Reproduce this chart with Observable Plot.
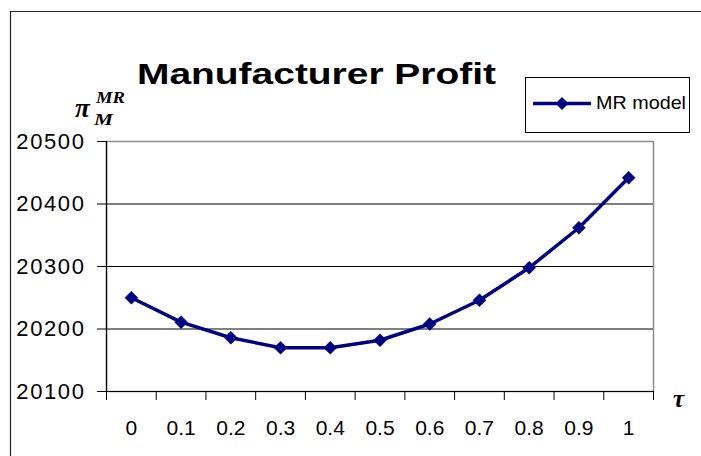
<!DOCTYPE html>
<html>
<head>
<meta charset="utf-8">
<script src="https://cdn.jsdelivr.net/npm/d3@7"></script>
<script src="https://cdn.jsdelivr.net/npm/@observablehq/plot@0.6"></script>
<style>
  html, body { margin: 0; padding: 0; background: #fff; }
  #wrap { position: relative; width: 701px; height: 456px; overflow: hidden; background: #fff; }
  #wrap > svg { position: absolute; left: 0; top: 0; }
  #overlay { pointer-events: none; }
</style>
</head>
<body>
<div id="wrap"></div>
<script>
// ---- data ----
const taus = ["0", "0.1", "0.2", "0.3", "0.4", "0.5", "0.6", "0.7", "0.8", "0.9", "1"];
const profit = [20250, 20211, 20186, 20170, 20170, 20182, 20208, 20246, 20298, 20362, 20442];
const yTicks = [20100, 20200, 20300, 20400, 20500];
const gridValues = [20200, 20300, 20400];
const seriesName = "MR model";
const titleText = "Manufacturer Profit";

const sans = "'Liberation Sans', Arimo, Arial, sans-serif";
const serif = "'Liberation Serif', 'Times New Roman', serif";
const navy = "#000080";
const data = taus.map((t, i) => ({tau: t, idx: i + 0.5, profit: profit[i]}));
const boundaries = d3.range(0, taus.length + 1);
const centers = taus.map((t, i) => i + 0.5);

const diamond = {
  draw(context, size) {
    const h = Math.sqrt(size / Math.PI) + 0.5;
    context.moveTo(0, -h);
    context.lineTo(h, 0);
    context.lineTo(0, h);
    context.lineTo(-h, 0);
    context.closePath();
  }
};

const chart = Plot.plot({
  width: 701,
  height: 456,
  marginLeft: 106,
  marginRight: 48,
  marginTop: 141,
  marginBottom: 65,
  style: {fontFamily: sans, background: "transparent", color: "#000"},
  x: {type: "linear", domain: [0, taus.length]},
  y: {domain: [20100, 20500]},
  marks: [
    Plot.ruleY(gridValues, {stroke: "#000", strokeWidth: 1}),
    Plot.frame({stroke: "#8c8c8c", strokeWidth: 1.5}),
    Plot.ruleX([0], {stroke: "#000", strokeWidth: 1.2}),
    Plot.ruleY([20100], {stroke: "#000", strokeWidth: 1.2}),
    Plot.axisY({ticks: yTicks, tickSize: 9, tickPadding: 12, tickFormat: d => String(d), fontSize: 22, fontFamily: sans, label: null, stroke: "#000"}),
    Plot.axisX({ticks: boundaries, tickSize: 9, tickFormat: () => "", label: null, stroke: "#000"}),
    Plot.axisX({ticks: centers, tickSize: 0, tickPadding: 29, tickFormat: (d) => taus[Math.round(d - 0.5)], fontSize: 21, fontFamily: sans, label: null}),
    Plot.line(data, {x: "idx", y: "profit", stroke: navy, strokeWidth: 3.5}),
    Plot.dot(data, {x: "idx", y: "profit", r: 6, symbol: diamond, fill: navy, stroke: navy, strokeWidth: 0.5})
  ]
});

d3.select(chart).selectAll('g[aria-label="y-axis tick label"] text').style("letter-spacing", "1.6px");

const wrap = document.getElementById("wrap");
wrap.appendChild(chart);

// overlay: outer frame, title, legend, axis labels
const ov = d3.create("svg")
  .attr("id", "overlay")
  .attr("width", 701).attr("height", 456)
  .attr("viewBox", "0 0 701 456");

ov.append("path").attr("d", "M10.5,456 V11.5 H701").attr("fill", "none").attr("stroke", "#222").attr("stroke-width", 1.2);

ov.append("text")
  .attr("x", 137).attr("y", 83.5)
  .attr("font-family", sans)
  .attr("font-weight", "bold").attr("font-size", 30)
  .attr("textLength", 359).attr("lengthAdjust", "spacingAndGlyphs")
  .text(titleText);

const lg = ov.append("g");
lg.append("rect").attr("x", 525.5).attr("y", 77.5).attr("width", 164).attr("height", 55)
  .attr("fill", "#fff").attr("stroke", "#000").attr("stroke-width", 1);
lg.append("line").attr("x1", 533).attr("x2", 591).attr("y1", 103.5).attr("y2", 103.5)
  .attr("stroke", navy).attr("stroke-width", 3.5);
lg.append("path").attr("d", "M562,97 L568.5,103.5 L562,110 L555.5,103.5 Z").attr("fill", navy);
lg.append("text").attr("x", 596).attr("y", 108.5)
  .attr("font-family", sans).attr("font-size", 19)
  .attr("textLength", 90).attr("lengthAdjust", "spacingAndGlyphs")
  .text(seriesName);

const yl = ov.append("g").attr("font-family", serif).attr("font-weight", "bold").attr("font-style", "italic");
yl.append("text").attr("x", 75).attr("y", 117).attr("font-size", 27).text("π");
yl.append("text").attr("x", 96).attr("y", 103).attr("font-size", 16).attr("textLength", 29).attr("lengthAdjust", "spacingAndGlyphs").text("MR");
yl.append("text").attr("x", 94).attr("y", 125).attr("font-size", 16).attr("textLength", 19).attr("lengthAdjust", "spacingAndGlyphs").text("M");

ov.append("text").attr("x", 673).attr("y", 407)
  .attr("font-family", serif).attr("font-weight", "bold").attr("font-style", "italic")
  .attr("font-size", 25).text("τ");

wrap.appendChild(ov.node());
</script>
</body>
</html>
